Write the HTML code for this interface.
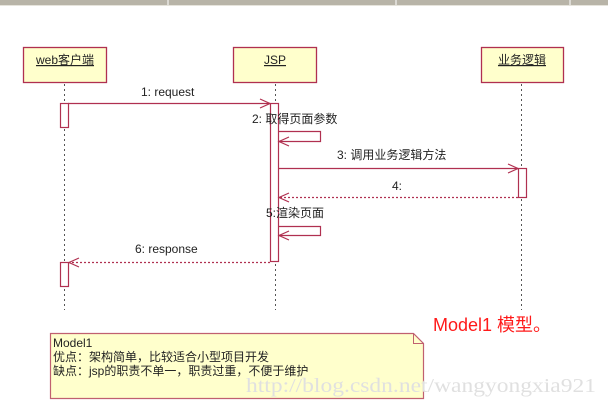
<!DOCTYPE html>
<html><head><meta charset="utf-8"><style>
html,body{margin:0;padding:0;background:#fff;}
svg{display:block;}
text{font-family:"Liberation Sans","Noto Sans CJK SC",sans-serif;font-size:12px;fill:#222;}
</style></head><body>
<svg width="608" height="405" viewBox="0 0 608 405" xmlns="http://www.w3.org/2000/svg">
<rect x="0" y="0" width="608" height="5" fill="#b8b4a8"/>
<rect x="0" y="5" width="608" height="1" fill="#e6e4dc"/>
<line x1="168" y1="0" x2="168" y2="5" stroke="#fff"/>
<line x1="396" y1="0" x2="396" y2="5" stroke="#fff"/>
<line x1="570" y1="0" x2="570" y2="5" stroke="#fff"/>
<g stroke="#555" stroke-dasharray="2,3" stroke-width="1">
<line x1="64.5" y1="84" x2="64.5" y2="310"/>
<line x1="275.5" y1="84" x2="275.5" y2="310"/>
<line x1="521.5" y1="84" x2="521.5" y2="310"/>
</g>
<g fill="#ffffcc" stroke="#b03050" stroke-width="1.3">
<rect x="23.5" y="47.5" width="83" height="35"/>
<rect x="233.5" y="47.5" width="83" height="35"/>
<rect x="481.5" y="47.5" width="82" height="35"/>
</g>
<text x="65" y="64" text-anchor="middle" text-decoration="underline">web客户端</text>
<text x="275" y="64" text-anchor="middle" text-decoration="underline">JSP</text>
<text x="522" y="64" text-anchor="middle" text-decoration="underline">业务逻辑</text>
<g fill="#fff" stroke="#b03050" stroke-width="1.2">
<rect x="60.5" y="103.5" width="8" height="24"/>
<rect x="270.5" y="103.5" width="8" height="158"/>
<rect x="518.5" y="168.5" width="8" height="29"/>
<rect x="60.5" y="262.5" width="8" height="24"/>
</g>
<g fill="none" stroke="#b03050" stroke-width="1.2">
<line x1="68" y1="103.5" x2="270" y2="103.5"/>
<polyline points="260,99 270,103.5 260,108"/>
<polyline points="279,131.5 320.5,131.5 320.5,141.5 279,141.5"/>
<polyline points="289,137 279,141.5 289,146"/>
<line x1="279" y1="168.5" x2="518" y2="168.5"/>
<polyline points="508,164 518,168.5 508,173"/>
<line x1="518" y1="197.5" x2="279" y2="197.5" stroke-dasharray="2,2"/>
<polyline points="289,193 279,197.5 289,202"/>
<polyline points="279,226.5 320.5,226.5 320.5,235.5 279,235.5"/>
<polyline points="289,231 279,235.5 289,240"/>
<line x1="270" y1="262.5" x2="69" y2="262.5" stroke-dasharray="2,2"/>
<polyline points="79,258 69,262.5 79,267"/>
</g>
<text x="141" y="96">1: request</text>
<text x="252" y="123">2: 取得页面参数</text>
<text x="337" y="159">3: 调用业务逻辑方法</text>
<text x="392" y="190">4:</text>
<text x="266" y="217">5:渲染页面</text>
<text x="135" y="253">6: response</text>
<path d="M50.5,333.5 L413.5,333.5 L423.5,343.5 L423.5,398.5 L50.5,398.5 Z" fill="#ffffcc" stroke="#c06070" stroke-width="1.2"/>
<polyline points="413.5,333.5 413.5,343.5 423.5,343.5" fill="none" stroke="#c06070"/>
<text x="53" y="347" fill="#444">Model1</text>
<text x="53" y="361">优点：架构简单，比较适合小型项目开发</text>
<text x="53" y="375">缺点：jsp的职责不单一，职责过重，不便于维护</text>
<text x="433" y="331" style="font-size:18px;fill:#ff1a1a">Model1 模型。</text>
<text x="246" y="392" textLength="350" lengthAdjust="spacingAndGlyphs" style="font-family:'Liberation Serif',serif;font-size:20px;fill:#e0e0e0">http://blog.csdn.net/wangyongxia921</text>
</svg>
</body></html>
